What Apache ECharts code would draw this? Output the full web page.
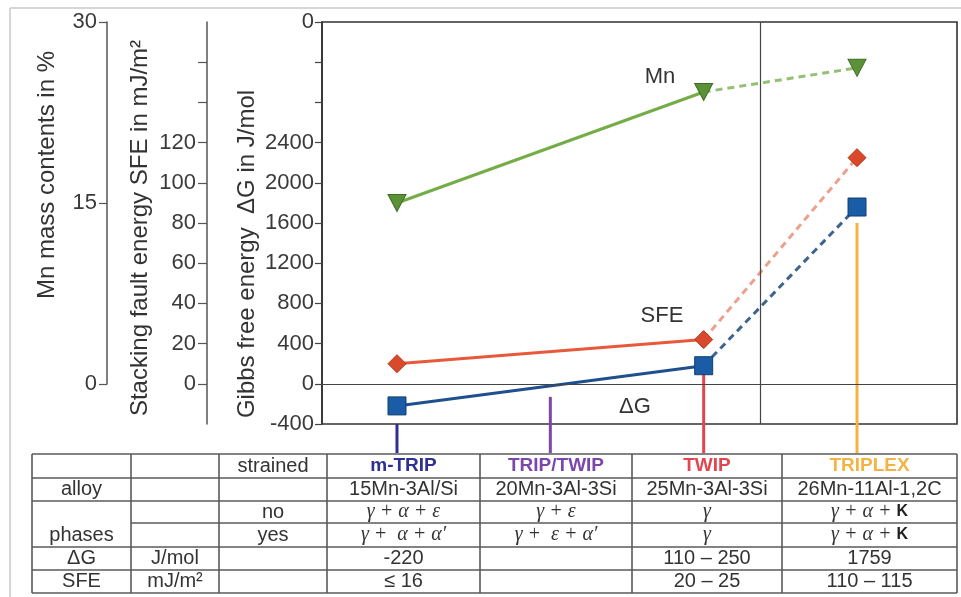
<!DOCTYPE html>
<html>
<head>
<meta charset="utf-8">
<script src="https://cdn.jsdelivr.net/npm/echarts@6/dist/echarts.min.js"></script>
<style>
  html, body { margin: 0; padding: 0; background: #fff; }
  #chart { width: 961px; height: 597px; }
</style>
</head>
<body>
<div id="chart"></div>
<script>
// Alloy concepts along the horizontal axis
const alloys = ['m-TRIP', 'TRIP/TWIP', 'TWIP', 'TRIPLEX'];
const alloyColors = ['#2e3192', '#7b47ab', '#e2464f', '#f3b443'];

// Plotted values (null = not measured)
const mnContent   = [15, null, 24.2, 26.2];     // Mn mass contents in %
const sfeValues   = [10, null, 22, 112.5];      // stacking fault energy, mJ/m²
const gibbsValues = [-220, null, 180, 1759];    // Gibbs free energy ΔG, J/mol

// Start of the leader lines (on the ΔG scale) that run down to the table
const leaderFrom = [-400, -130, 110, 1600];
// Split between measured and extrapolated alloys (x position)
const dividerAt = 2.37;

// Tick labels
const gibbsTicks  = [-400, 0, 400, 800, 1200, 1600, 2000, 2400, 2800, 3200, 3600];
const gibbsLabels = ['-400', '0', '400', '800', '1200', '1600', '2000', '2400', '', '', '0'];
const sfeTicks    = [0, 20, 40, 60, 80, 100, 120, 140, 160];
const sfeLabels   = ['0', '20', '40', '60', '80', '100', '120', '', ''];
const mnTicks     = [0, 15, 30];

// Table contents
const tableHeader = ['', '', 'strained', 'm-TRIP', 'TRIP/TWIP', 'TWIP', 'TRIPLEX'];
const tableAlloy  = ['alloy', '', '', '15Mn-3Al/Si', '20Mn-3Al-3Si', '25Mn-3Al-3Si', '26Mn-11Al-1,2C'];
const tablePhNo   = ['', '', 'no', 'γ + α + ε', 'γ + ε', 'γ', 'γ + α + Κ'];
const tablePhYes  = ['phases', '', 'yes', 'γ +  α + α′', 'γ +  ε + α′', 'γ', 'γ + α + Κ'];
const tableDG     = ['ΔG', 'J/mol', '', '-220', '', '110 – 250', '1759'];
const tableSFE    = ['SFE', 'mJ/m²', '', '≤ 16', '', '20 – 25', '110 – 115'];

// ---- layout ----
const FONT = '"Liberation Sans", Arial, sans-serif';
const colEdges = [32, 131, 219, 327, 480, 632, 782, 957];
const rowEdges = [454, 478, 501, 523, 547, 570, 593];
const TABLE_TOP = rowEdges[0];

function pts(values, idx) {
  return idx.filter(i => values[i] != null).map(i => [i, values[i]]);
}
const solidIdx = [0, 1, 2];
const dashIdx = [2, 3];
const allIdx = [0, 1, 2, 3];

// ---- table graphics ----
const graphics = [];
// outer frame
graphics.push({ type: 'line', shape: { x1: 10, y1: 8, x2: 961, y2: 8 }, style: { stroke: '#c8c8c8', lineWidth: 1.5 } });
graphics.push({ type: 'line', shape: { x1: 10, y1: 8, x2: 10, y2: 597 }, style: { stroke: '#c8c8c8', lineWidth: 1.5 } });

const gridStroke = { stroke: '#5a5a5a', lineWidth: 1.6 };
rowEdges.forEach((y, r) => {
  const x1 = (r === 3) ? colEdges[1] : colEdges[0];
  graphics.push({ type: 'line', shape: { x1: x1, y1: y, x2: colEdges[colEdges.length - 1], y2: y }, style: gridStroke });
});
colEdges.forEach(x => {
  graphics.push({ type: 'line', shape: { x1: x, y1: rowEdges[0], x2: x, y2: rowEdges[rowEdges.length - 1] }, style: gridStroke });
});

const tableRows = [tableHeader, tableAlloy, tablePhNo, tablePhYes, tableDG, tableSFE];
tableRows.forEach((row, r) => {
  const cy = (rowEdges[r] + rowEdges[r + 1]) / 2;
  row.forEach((txt, c) => {
    if (!txt) return;
    const cx = (colEdges[c] + colEdges[c + 1]) / 2;
    const isPhase = (r === 2 || r === 3) && c >= 3;
    let style;
    if (r === 0 && c >= 3) {
      style = { text: txt, font: 'bold 19px ' + FONT, fill: alloyColors[c - 3] };
    } else if (isPhase) {
      const parts = txt.split('Κ');
      let rich = '{g|' + parts[0] + '}';
      if (parts.length > 1) rich += '{k|Κ}';
      style = {
        text: rich,
        rich: {
          g: { font: 'italic 20px "Liberation Serif", "Times New Roman", serif', fill: '#333' },
          k: { font: 'bold 16px ' + FONT, fill: '#222' }
        }
      };
    } else {
      style = { text: txt, font: '20px ' + FONT, fill: '#333' };
    }
    style.align = 'center';
    style.verticalAlign = 'middle';
    style.textAlign = 'center';
    style.textVerticalAlign = 'middle';
    graphics.push({ type: 'text', x: cx, y: cy, style: style, z: 10 });
  });
});

// axis titles
function vTitle(text, x, y) {
  return {
    type: 'text', x: x, y: y, rotation: Math.PI / 2,
    style: { text: text, font: '24px ' + FONT, fill: '#333', align: 'center', verticalAlign: 'middle', textAlign: 'center', textVerticalAlign: 'middle' }
  };
}
graphics.push(vTitle('Mn mass contents in %', 47, 175));
graphics.push(vTitle('Stacking fault energy SFE in mJ/m²', 140, 228));
graphics.push(vTitle('Gibbs free energy  ΔG in J/mol', 247, 254));

// series names inside the plot
function inText(text, x, y) {
  return { type: 'text', x: x, y: y, z: 10,
    style: { text: text, font: '22px ' + FONT, fill: '#333', align: 'center', verticalAlign: 'middle', textAlign: 'center', textVerticalAlign: 'middle' } };
}
graphics.push(inText('Mn', 660, 77));
graphics.push(inText('SFE', 662, 316));
graphics.push(inText('ΔG', 635, 407));

// ---- chart ----
const xCommon = { type: 'value', min: -0.489, max: 3.652, show: false };
const labelStyle = { fontSize: 22, fontFamily: FONT, color: '#3a3a3a' };

const option = {
  animation: false,
  backgroundColor: '#fff',
  grid: [
    { left: 322, right: 4, top: 22, height: 402, show: true, borderColor: '#333', borderWidth: 1.6, backgroundColor: 'transparent' },
    { left: 322, right: 4, top: 22, height: 362, show: false }
  ],
  xAxis: [
    Object.assign({ gridIndex: 0 }, xCommon),
    Object.assign({ gridIndex: 1 }, xCommon)
  ],
  yAxis: [
    { // Gibbs free energy
      gridIndex: 0, type: 'value', position: 'left', min: -400, max: 3600, interval: 400,
      axisLine: { show: true, onZero: false, lineStyle: { color: '#333', width: 1.6 } },
      axisTick: { show: true, length: 7, lineStyle: { color: '#444', width: 1.2 } },
      axisLabel: Object.assign({ margin: 8, formatter: v => { const i = gibbsTicks.indexOf(v); return i < 0 ? '' : gibbsLabels[i]; } }, labelStyle),
      splitLine: { show: false }
    },
    { // Mn content
      gridIndex: 1, type: 'value', position: 'left', offset: 215, min: mnTicks[0], max: mnTicks[2], interval: 15,
      axisLine: { show: true, onZero: false, lineStyle: { color: '#555', width: 1.5 } },
      axisTick: { show: true, length: 8, lineStyle: { color: '#555', width: 1.2 } },
      axisLabel: Object.assign({ margin: 10 }, labelStyle),
      splitLine: { show: false }
    },
    { // Stacking fault energy
      gridIndex: 0, type: 'value', position: 'left', offset: 115, min: -20, max: 180, interval: 20,
      axisLine: { show: true, onZero: false, lineStyle: { color: '#555', width: 1.5 } },
      axisTick: { show: true, length: 9, customValues: sfeTicks, lineStyle: { color: '#555', width: 1.2 } },
      axisLabel: Object.assign({ margin: 11, customValues: sfeTicks.slice(0, 7), formatter: v => { const i = sfeTicks.indexOf(v); return i < 0 ? '' : sfeLabels[i]; } }, labelStyle),
      splitLine: { show: false }
    }
  ],
  graphic: { elements: graphics },
  series: [
    { // leader lines from the plot down to the table
      type: 'custom', xAxisIndex: 0, yAxisIndex: 0, clip: false, z: 1,
      data: leaderFrom.map((v, i) => [i, v]),
      renderItem: (params, api) => {
        const p = api.coord([api.value(0), api.value(1)]);
        return { type: 'line', shape: { x1: p[0], y1: p[1], x2: p[0], y2: TABLE_TOP - 1 },
          style: { stroke: alloyColors[api.value(0)], lineWidth: 3 } };
      }
    },
    { // reference lines: ΔG = 0 and divider
      type: 'line', xAxisIndex: 0, yAxisIndex: 0, data: [], silent: true,
      markLine: { silent: true, symbol: 'none', label: { show: false },
        lineStyle: { color: '#444', width: 1.2, type: 'solid' },
        data: [{ yAxis: 0 }, { xAxis: dividerAt }] }
    },
    // Mn
    { type: 'line', xAxisIndex: 1, yAxisIndex: 1, data: pts(mnContent, solidIdx), symbol: 'none', z: 3,
      lineStyle: { color: '#74ad48', width: 3 } },
    { type: 'line', xAxisIndex: 1, yAxisIndex: 1, data: pts(mnContent, dashIdx), symbol: 'none', z: 3,
      lineStyle: { color: '#94bf74', width: 3, type: [7, 5] } },
    { type: 'scatter', xAxisIndex: 1, yAxisIndex: 1, data: pts(mnContent, allIdx), z: 5,
      symbol: 'triangle', symbolRotate: 180, symbolSize: [18, 17],
      itemStyle: { color: '#5b9236', borderColor: '#3e6b26', borderWidth: 1, opacity: 1 } },
    // SFE
    { type: 'line', xAxisIndex: 0, yAxisIndex: 2, data: pts(sfeValues, solidIdx), symbol: 'none', z: 3,
      lineStyle: { color: '#e8583a', width: 3 } },
    { type: 'line', xAxisIndex: 0, yAxisIndex: 2, data: pts(sfeValues, dashIdx), symbol: 'none', z: 3,
      lineStyle: { color: '#eda08c', width: 3, type: [7, 5] } },
    { type: 'scatter', xAxisIndex: 0, yAxisIndex: 2, data: pts(sfeValues, allIdx), z: 5,
      symbol: 'diamond', symbolSize: [18, 18],
      itemStyle: { color: '#d9492b', borderColor: '#b3361c', borderWidth: 1, opacity: 1 } },
    // ΔG
    { type: 'line', xAxisIndex: 0, yAxisIndex: 0, data: pts(gibbsValues, solidIdx), symbol: 'none', z: 3,
      lineStyle: { color: '#1e508e', width: 3 } },
    { type: 'line', xAxisIndex: 0, yAxisIndex: 0, data: pts(gibbsValues, dashIdx), symbol: 'none', z: 3,
      lineStyle: { color: '#3d6391', width: 3, type: [7, 5] } },
    { type: 'scatter', xAxisIndex: 0, yAxisIndex: 0, data: pts(gibbsValues, allIdx), z: 5,
      symbol: 'rect', symbolSize: 18,
      itemStyle: { color: '#1a5ca6', borderColor: '#12406f', borderWidth: 1, opacity: 1 } }
  ]
};

const chart = echarts.init(document.getElementById('chart'), null, { renderer: 'canvas' });
chart.setOption(option);
</script>
</body>
</html>
